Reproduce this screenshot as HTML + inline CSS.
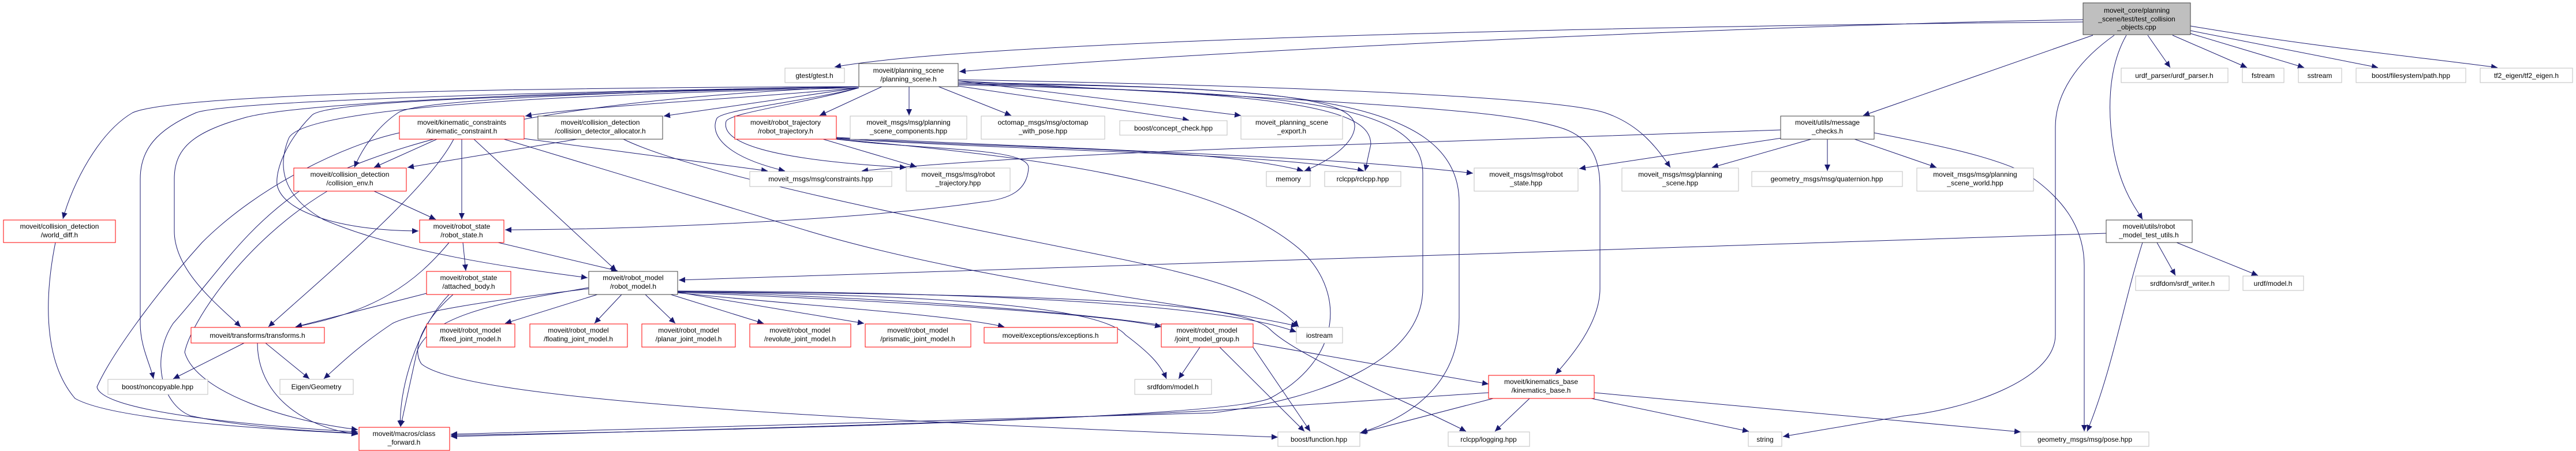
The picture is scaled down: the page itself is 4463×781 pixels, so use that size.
<!DOCTYPE html>
<html><head><meta charset="utf-8"><style>
html,body{margin:0;padding:0;background:#fff;}
svg{display:block;}
text{font-family:"Liberation Sans","DejaVu Sans",sans-serif;font-size:12px;fill:#000;text-anchor:middle;}
.r{fill:#fff;stroke:#ff0000;stroke-width:1;}
.b{fill:#fff;stroke:#404040;stroke-width:1;}
.g{fill:#fff;stroke:#bfbfbf;stroke-width:1;}
path.e{fill:none;stroke:#191970;stroke-width:1;marker-end:url(#a);}
</style></head><body>
<svg width="4463" height="781" viewBox="0 0 4463 781" xmlns="http://www.w3.org/2000/svg">
<defs><marker id="a" markerUnits="userSpaceOnUse" markerWidth="12" markerHeight="10" refX="11" refY="5" orient="auto"><path d="M0,0 L11,5 L0,10 z" fill="#191970"/></marker></defs>

<!-- edges -->
<g>
<path class="e" d="M3609,34 C3200,40 2200,80 1662,124"/>
<path class="e" d="M3609,38 C2800,45 1700,70 1446,116"/>
<path class="e" d="M3626,61 L3228,200"/>
<path class="e" d="M3663,61 C3580,120 3561,180 3561,220 L3561,580 C3561,660 3400,710 3300,720 L3089,756"/>
<path class="e" d="M3684,61 C3650,120 3652,200 3662,260 C3675,330 3700,360 3712,380"/>
<path class="e" d="M3721,61 L3760,117"/>
<path class="e" d="M3764,61 L3893,117"/>
<path class="e" d="M3795,58 L3992,117"/>
<path class="e" d="M3795,53 L4120,117"/>
<path class="e" d="M3795,45 C4000,80 4200,100 4327,117"/>

<path class="e" d="M3085,225 L2200,255 C1800,270 1600,285 1493,296"/>
<path class="e" d="M3107,236 L2736,292"/>
<path class="e" d="M3138,241 L2966,290"/>
<path class="e" d="M3166,241 L3166,296"/>
<path class="e" d="M3213,241 L3355,290"/>
<path class="e" d="M3247,230 C3350,250 3450,270 3510,300 C3570,340 3611,390 3611,460 L3611,747"/>

<path class="e" d="M3649,404 L1176,485"/>
<path class="e" d="M3737,420 L3769,477"/>
<path class="e" d="M3771,420 L3912,477"/>
<path class="e" d="M3712,420 C3680,520 3660,640 3616,747"/>

<path class="e" d="M1528,150 L1420,200"/>
<path class="e" d="M1575,150 L1575,200"/>
<path class="e" d="M1626,150 L1752,200"/>
<path class="e" d="M1660,149 L2060,208"/>
<path class="e" d="M1660,140 L2150,200"/>
<path class="e" d="M1488,152 C1300,170 1000,185 910,201"/>
<path class="e" d="M1488,152 L1150,201"/>
<path class="e" d="M1488,150 C1000,160 720,175 690,195 C660,215 630,250 614,290"/>
<path class="e" d="M1488,150 C900,165 560,175 540,200 C500,240 477,290 480,320 C490,370 600,400 725,400"/>
<path class="e" d="M1488,152 C900,165 520,190 500,240 C480,290 490,340 560,380 C700,440 900,465 1018,481"/>
<path class="e" d="M1488,150 C900,160 500,180 420,205 C330,230 302,260 302,310 L302,400 C302,470 380,530 417,566"/>
<path class="e" d="M1488,150 C900,160 400,175 340,195 C270,225 243,260 243,310 L243,560 C243,600 260,630 266,656"/>
<path class="e" d="M1488,150 C800,152 300,165 230,195 C170,230 125,320 109,379"/>
<path class="e" d="M1660,147 C2200,160 2465,170 2465,300 L2465,500 C2465,620 2300,690 2100,715 L781,752"/>
<path class="e" d="M1660,145 C2200,150 2528,160 2528,350 L2528,550 C2528,680 2420,730 2358,749"/>
<path class="e" d="M1660,140 C2400,180 2600,190 2700,220 C2772,240 2772,300 2772,330 L2772,500 C2772,560 2720,620 2695,648"/>
<path class="e" d="M1660,138 C2300,150 2700,170 2780,195 C2840,215 2870,255 2894,290"/>
<path class="e" d="M1660,143 C2200,150 2350,170 2347,220 C2345,250 2300,280 2260,296"/>
<path class="e" d="M1660,145 C2250,160 2375,190 2375,250 L2365,296"/>
<path class="e" d="M1488,152 C1400,175 1250,190 1242,205 C1230,230 1250,270 1360,296"/>
<path class="e" d="M1488,152 C1400,178 1265,195 1258,210 C1250,240 1300,275 1570,290"/>
<path class="e" d="M1488,150 C1000,170 700,230 520,330 C420,400 380,470 300,560 C260,620 280,700 330,720 C420,740 560,748 620,750"/>

<path class="e" d="M1426,241 L1588,289"/>
<path class="e" d="M1449,241 C1600,260 1780,255 1782,290 C1780,330 1750,345 1700,350 C1500,380 1100,398 875,398"/>
<path class="e" d="M1449,239 C1800,260 2100,255 2258,296"/>
<path class="e" d="M1449,240 C1800,262 2200,265 2363,296"/>
<path class="e" d="M1449,238 C1900,260 2300,270 2552,300"/>
<path class="e" d="M1449,241 C1900,280 2130,330 2250,430 C2330,500 2330,620 2200,690 C2100,730 1000,750 781,754"/>

<path class="e" d="M757,241 L648,290"/>
<path class="e" d="M800,241 L800,380"/>
<path class="e" d="M786,241 C740,330 560,480 465,566"/>
<path class="e" d="M821,241 L1068,469"/>
<path class="e" d="M908,240 L1330,296"/>
<path class="e" d="M873,241 C1000,280 1200,340 1400,400 C1700,490 2100,530 2248,565"/>
<path class="e" d="M692,230 C600,250 450,320 350,420 C260,520 190,620 168,670 C175,710 400,735 620,748"/>

<path class="e" d="M1000,241 L706,290"/>
<path class="e" d="M1080,241 C1200,300 1600,380 1900,440 C2100,480 2200,510 2250,566"/>

<path class="e" d="M648,331 L755,380"/>
<path class="e" d="M567,331 C420,420 330,560 320,610 C340,680 500,730 620,744"/>

<path class="e" d="M802,420 L807,469"/>
<path class="e" d="M863,420 L1070,469"/>
<path class="e" d="M778,420 C720,490 650,540 512,566"/>
<path class="e" d="M739,508 L512,566"/>
<path class="e" d="M778,510 C720,570 690,680 694,739"/>
<path class="e" d="M785,510 C740,550 710,600 730,630 C800,690 1400,725 2214,757"/>

<path class="e" d="M1035,510 L875,560"/>
<path class="e" d="M1077,510 L1030,560"/>
<path class="e" d="M1118,510 L1170,560"/>
<path class="e" d="M1162,510 L1323,560"/>
<path class="e" d="M1174,506 L1497,560"/>
<path class="e" d="M1174,507 C1400,530 1650,545 1740,566"/>
<path class="e" d="M1174,506 C1500,520 1900,540 2012,566"/>
<path class="e" d="M1174,505 C1500,510 1900,520 1950,580 C1990,610 2010,630 2021,656"/>
<path class="e" d="M1174,504 C1600,505 2100,520 2246,575"/>
<path class="e" d="M1020,500 C850,520 720,540 680,560 C620,600 590,630 561,656"/>
<path class="e" d="M1020,498 C900,520 730,540 720,620 L694,739"/>
<path class="e" d="M1174,505 C1800,510 2150,520 2200,570 C2250,620 2450,700 2540,747"/>
<path class="e" d="M1174,505 C1700,520 2100,560 2170,600 L2270,747"/>

<path class="e" d="M423,594 L300,656"/>
<path class="e" d="M460,594 L536,656"/>
<path class="e" d="M446,594 C446,680 520,740 620,752"/>

<path class="e" d="M2079,601 L2042,656"/>
<path class="e" d="M2171,594 L2579,665"/>
<path class="e" d="M2113,601 L2260,747"/>

<path class="e" d="M2587,690 L2356,750"/>
<path class="e" d="M2650,690 L2590,747"/>
<path class="e" d="M2757,690 L3030,747"/>
<path class="e" d="M2762,680 L3501,748"/>
<path class="e" d="M2579,680 L2200,705 C1800,730 1200,745 781,756"/>

<path class="e" d="M96,420 C80,500 70,620 130,690 C200,730 500,745 620,751"/>
</g>

<!-- nodes -->
<g>
<rect x="3609" y="5" width="186" height="55" fill="#bfbfbf" stroke="#404040"/>
<text x="3702" y="22">moveit_core/planning</text><text x="3702" y="37">_scene/test/test_collision</text><text x="3702" y="51">_objects.cpp</text>

<rect class="g" x="1360" y="118" width="103" height="25"/><text x="1411" y="135">gtest/gtest.h</text>
<rect class="b" x="1488" y="110" width="172" height="40"/><text x="1574" y="126">moveit/planning_scene</text><text x="1574" y="141">/planning_scene.h</text>
<rect class="g" x="3675" y="118" width="185" height="25"/><text x="3767" y="135">urdf_parser/urdf_parser.h</text>
<rect class="g" x="3885" y="118" width="72" height="25"/><text x="3921" y="135">fstream</text>
<rect class="g" x="3982" y="118" width="75" height="25"/><text x="4019" y="135">sstream</text>
<rect class="g" x="4082" y="118" width="190" height="25"/><text x="4177" y="135">boost/filesystem/path.hpp</text>
<rect class="g" x="4297" y="118" width="160" height="25"/><text x="4377" y="135">tf2_eigen/tf2_eigen.h</text>

<rect class="b" x="3085" y="201" width="162" height="40"/><text x="3166" y="216">moveit/utils/message</text><text x="3166" y="231">_checks.h</text>
<rect class="r" x="692" y="201" width="216" height="40"/><text x="800" y="216">moveit/kinematic_constraints</text><text x="800" y="231">/kinematic_constraint.h</text>
<rect class="b" x="932" y="201" width="216" height="40"/><text x="1040" y="216">moveit/collision_detection</text><text x="1040" y="231">/collision_detector_allocator.h</text>
<rect class="r" x="1273" y="201" width="176" height="40"/><text x="1361" y="216">moveit/robot_trajectory</text><text x="1361" y="231">/robot_trajectory.h</text>
<rect class="g" x="1473" y="201" width="202" height="40"/><text x="1574" y="216">moveit_msgs/msg/planning</text><text x="1574" y="231">_scene_components.hpp</text>
<rect class="g" x="1700" y="201" width="214" height="40"/><text x="1807" y="216">octomap_msgs/msg/octomap</text><text x="1807" y="231">_with_pose.hpp</text>
<rect class="g" x="1940" y="209" width="186" height="25"/><text x="2033" y="226">boost/concept_check.hpp</text>
<rect class="g" x="2150" y="201" width="176" height="40"/><text x="2238" y="216">moveit_planning_scene</text><text x="2238" y="231">_export.h</text>

<rect class="r" x="509" y="291" width="195" height="40"/><text x="606" y="306">moveit/collision_detection</text><text x="606" y="321">/collision_env.h</text>
<rect class="g" x="1299" y="297" width="246" height="26"/><text x="1422" y="314">moveit_msgs/msg/constraints.hpp</text>
<rect class="g" x="1570" y="291" width="180" height="40"/><text x="1660" y="306">moveit_msgs/msg/robot</text><text x="1660" y="321">_trajectory.hpp</text>
<rect class="g" x="2194" y="297" width="76" height="26"/><text x="2232" y="314">memory</text>
<rect class="g" x="2295" y="297" width="132" height="26"/><text x="2361" y="314">rclcpp/rclcpp.hpp</text>
<rect class="g" x="2554" y="291" width="180" height="40"/><text x="2644" y="306">moveit_msgs/msg/robot</text><text x="2644" y="321">_state.hpp</text>
<rect class="g" x="2810" y="291" width="202" height="40"/><text x="2911" y="306">moveit_msgs/msg/planning</text><text x="2911" y="321">_scene.hpp</text>
<rect class="g" x="3035" y="297" width="261" height="26"/><text x="3165" y="314">geometry_msgs/msg/quaternion.hpp</text>
<rect class="g" x="3321" y="291" width="202" height="40"/><text x="3422" y="306">moveit_msgs/msg/planning</text><text x="3422" y="321">_scene_world.hpp</text>

<rect class="r" x="6" y="381" width="194" height="39"/><text x="103" y="396">moveit/collision_detection</text><text x="103" y="411">/world_diff.h</text>
<rect class="r" x="727" y="381" width="146" height="39"/><text x="800" y="396">moveit/robot_state</text><text x="800" y="411">/robot_state.h</text>
<rect class="b" x="3649" y="381" width="149" height="39"/><text x="3723" y="396">moveit/utils/robot</text><text x="3723" y="411">_model_test_utils.h</text>

<rect class="r" x="739" y="470" width="146" height="40"/><text x="812" y="485">moveit/robot_state</text><text x="812" y="500">/attached_body.h</text>
<rect class="b" x="1020" y="470" width="154" height="40"/><text x="1097" y="485">moveit/robot_model</text><text x="1097" y="500">/robot_model.h</text>
<rect class="g" x="3700" y="478" width="162" height="25"/><text x="3781" y="495">srdfdom/srdf_writer.h</text>
<rect class="g" x="3886" y="478" width="105" height="25"/><text x="3938" y="495">urdf/model.h</text>

<rect class="r" x="331" y="567" width="231" height="27"/><text x="446" y="585">moveit/transforms/transforms.h</text>
<rect class="r" x="739" y="561" width="153" height="40"/><text x="815" y="576">moveit/robot_model</text><text x="815" y="591">/fixed_joint_model.h</text>
<rect class="r" x="918" y="561" width="169" height="40"/><text x="1002" y="576">moveit/robot_model</text><text x="1002" y="591">/floating_joint_model.h</text>
<rect class="r" x="1112" y="561" width="162" height="40"/><text x="1193" y="576">moveit/robot_model</text><text x="1193" y="591">/planar_joint_model.h</text>
<rect class="r" x="1299" y="561" width="175" height="40"/><text x="1386" y="576">moveit/robot_model</text><text x="1386" y="591">/revolute_joint_model.h</text>
<rect class="r" x="1499" y="561" width="183" height="40"/><text x="1590" y="576">moveit/robot_model</text><text x="1590" y="591">/prismatic_joint_model.h</text>
<rect class="r" x="1705" y="567" width="231" height="27"/><text x="1820" y="585">moveit/exceptions/exceptions.h</text>
<rect class="r" x="2012" y="561" width="159" height="40"/><text x="2091" y="576">moveit/robot_model</text><text x="2091" y="591">/joint_model_group.h</text>
<rect class="g" x="2246" y="567" width="80" height="27"/><text x="2286" y="585">iostream</text>

<rect class="g" x="187" y="657" width="173" height="26"/><text x="273" y="674">boost/noncopyable.hpp</text>
<rect class="g" x="485" y="657" width="127" height="26"/><text x="548" y="674">Eigen/Geometry</text>
<rect class="g" x="1966" y="657" width="133" height="26"/><text x="2032" y="674">srdfdom/model.h</text>
<rect class="r" x="2579" y="650" width="183" height="40"/><text x="2670" y="665">moveit/kinematics_base</text><text x="2670" y="680">/kinematics_base.h</text>

<rect class="r" x="622" y="740" width="157" height="40"/><text x="700" y="755">moveit/macros/class</text><text x="700" y="770">_forward.h</text>
<rect class="g" x="2214" y="748" width="142" height="25"/><text x="2285" y="765">boost/function.hpp</text>
<rect class="g" x="2509" y="748" width="141" height="25"/><text x="2579" y="765">rclcpp/logging.hpp</text>
<rect class="g" x="3029" y="748" width="58" height="25"/><text x="3058" y="765">string</text>
<rect class="g" x="3501" y="748" width="222" height="25"/><text x="3612" y="765">geometry_msgs/msg/pose.hpp</text>
</g>
</svg>
</body></html>
